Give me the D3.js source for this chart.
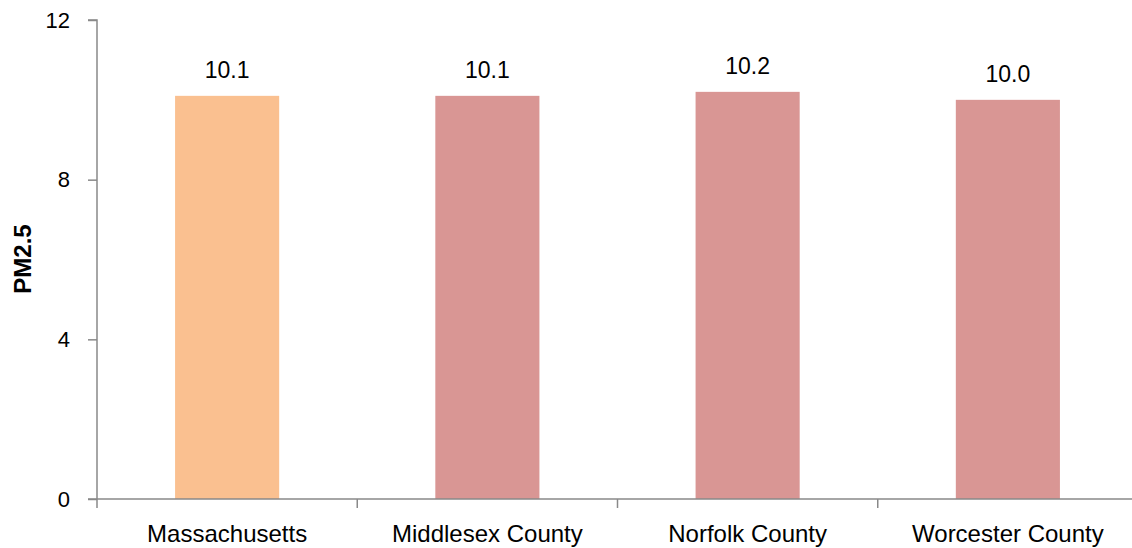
<!DOCTYPE html>
<html><head><meta charset="utf-8">
<script src="https://cdn.jsdelivr.net/npm/d3@7"></script>
<style>body{margin:0;background:#fff}svg{display:block}</style>
</head><body>
<svg id="c" width="1132" height="548"></svg>
<script>
const categories = ["Massachusetts", "Middlesex County", "Norfolk County", "Worcester County"];
const values = [10.1, 10.1, 10.2, 10.0];
const barColors = ["#FAC090", "#D99694", "#D99694", "#D99694"];
const yTicks = [0, 4, 8, 12];
const yLabel = "PM2.5";

const svg = d3.select("#c");
const font = "'Liberation Sans', Arial, sans-serif";
const x = d3.scaleBand().domain(categories).range([97, 1138]).padding(0);
const y = d3.scaleLinear().domain([0, 12]).range([499, 20]);
const axisColor = "#898989";

// bars
const bw = x.bandwidth() * 0.4;
svg.selectAll("rect.bar").data(values).join("rect")
  .attr("x", (d, i) => x(categories[i]) + x.bandwidth() / 2 - bw / 2)
  .attr("y", d => y(d))
  .attr("width", bw)
  .attr("height", d => y(0) - y(d))
  .attr("fill", (d, i) => barColors[i]);

// value labels
svg.selectAll("text.val").data(values).join("text")
  .attr("x", (d, i) => x(categories[i]) + x.bandwidth() / 2)
  .attr("y", d => y(d) - 18)
  .attr("text-anchor", "middle")
  .attr("font-family", font).attr("font-size", 23).attr("fill", "#000")
  .text(d => d.toFixed(1));

// y axis
const yAxis = d3.axisLeft(y).tickValues(yTicks).tickSize(9).tickPadding(18).tickFormat(d3.format("d"));
const gy = svg.append("g").attr("transform", "translate(97,0)").call(yAxis);
gy.select(".domain").attr("stroke", axisColor).attr("stroke-width", 1.5).attr("d", "M-9,20H0V499");
gy.selectAll(".tick line").attr("stroke", axisColor).attr("stroke-width", 1.5);
gy.selectAll(".tick text").attr("font-family", font).attr("font-size", 22).attr("fill", "#000");

// x axis
const xAxis = d3.axisBottom(x).tickSize(0).tickPadding(26);
const gx = svg.append("g").attr("transform", "translate(0,499)").call(xAxis);
gx.select(".domain").attr("stroke", axisColor).attr("stroke-width", 1.5).attr("d", "M88,0H1138");
gx.selectAll(".tick text").attr("font-family", font).attr("font-size", 24).attr("fill", "#000");
// category boundary ticks
gx.selectAll("line.sep").data(categories).join("line")
  .attr("x1", d => x(d)).attr("x2", d => x(d))
  .attr("y1", 0).attr("y2", 9)
  .attr("stroke", axisColor).attr("stroke-width", 1.5);

// y label
svg.append("text")
  .attr("transform", "translate(31,259) rotate(-90)")
  .attr("text-anchor", "middle")
  .attr("font-family", font).attr("font-size", 24).attr("font-weight", "bold").attr("fill", "#000")
  .text(yLabel);
</script>
</body></html>
